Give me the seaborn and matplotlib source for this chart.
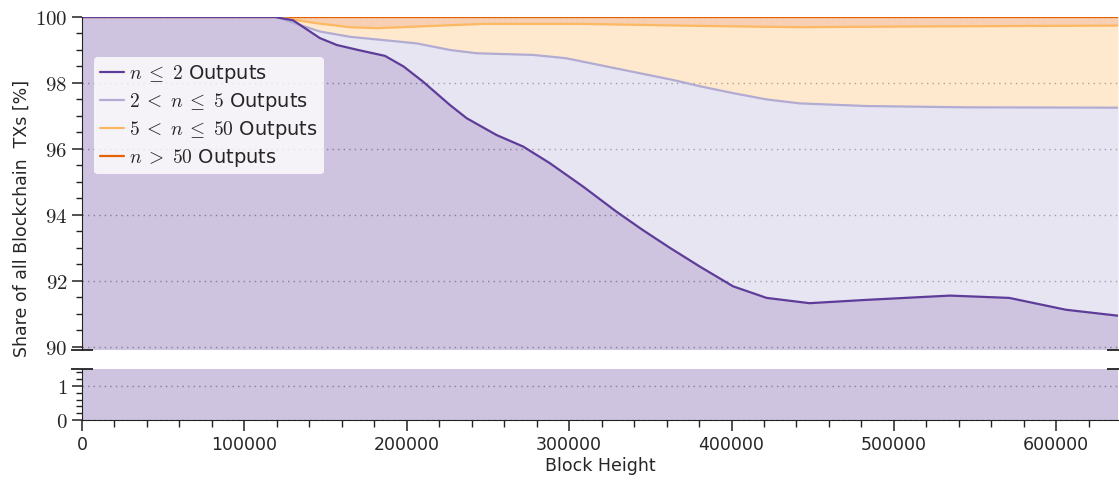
import numpy as np
import pandas as pd
import matplotlib
matplotlib.use("Agg")
import matplotlib.pyplot as plt
from matplotlib.ticker import MultipleLocator, FuncFormatter
import seaborn as sns

# ---- data (cumulative shares in %) ----
h_le2 = [0, 60000, 118800, 130000, 146500, 157000, 170000, 186600, 198000, 210000, 226600,
         236900, 255300, 271700, 288000, 308500, 329000, 345000, 362000, 380500, 401000,
         421600, 448000, 483000, 534500, 571000, 606000, 638000]
v_le2 = [100, 100, 100, 99.9, 99.36, 99.15, 99.0, 98.82, 98.5, 98.04, 97.33,
         96.93, 96.42, 96.07, 95.57, 94.86, 94.1, 93.55, 93.0, 92.43, 91.83,
         91.48, 91.32, 91.42, 91.55, 91.48, 91.12, 90.94]

h_le5 = [0, 60000, 120000, 134000, 146500, 165000, 189600, 206000, 226600, 243000, 277700,
         298000, 329000, 364000, 380500, 401000, 421600, 442000, 483000, 544700, 638000]
v_le5 = [100, 100, 100, 99.76, 99.56, 99.4, 99.28, 99.2, 99.0, 98.9, 98.85,
         98.75, 98.44, 98.09, 97.9, 97.69, 97.5, 97.38, 97.3, 97.26, 97.25]

h_le50 = [0, 60000, 120000, 144500, 165000, 181500, 206000, 247000, 308500, 380500, 442000,
          503700, 638000]
v_le50 = [100, 100, 100, 99.81, 99.69, 99.66, 99.71, 99.79, 99.79, 99.73, 99.69,
          99.71, 99.74]

h_all = [0, 638000]
v_all = [100, 100]

labels = [r"$n\;\leq\;2$ Outputs", r"$2\;<\;n\;\leq\;5$ Outputs",
          r"$5\;<\;n\;\leq\;50$ Outputs", r"$n\;>\;50$ Outputs"]
colors = ["#5e3c99", "#b2abd2", "#fdb863", "#e66101"]

series = [(h_le2, v_le2), (h_le5, v_le5), (h_le50, v_le50), (h_all, v_all)]

sns.set_style("ticks")
plt.rcParams["font.family"] = ["DejaVu Sans"]
plt.rcParams["mathtext.fontset"] = "cm"

fig = plt.figure(figsize=(11.19, 4.82), dpi=100)
L, R = 82 / 1119, 1118 / 1119
ax_top = fig.add_axes([L, 1 - 350 / 482, R - L, (350 - 17) / 482])
ax_bot = fig.add_axes([L, 1 - 420 / 482, R - L, (420 - 369) / 482])

xgrid = np.linspace(0, 638000, 2000)
curves = [np.interp(xgrid, h, v) for h, v in series]

for ax in (ax_top, ax_bot):
    lower = np.zeros_like(xgrid)
    for c, col in zip(curves, colors):
        ax.fill_between(xgrid, lower, c, color=col, alpha=0.3, linewidth=0)
        lower = c
    for i in reversed(range(4)):
        df = pd.DataFrame({"h": series[i][0], "v": series[i][1]})
        sns.lineplot(data=df, x="h", y="v", ax=ax, color=colors[i], linewidth=1.6,
                     label=labels[i] if ax is ax_top else None, legend=False)
    ax.set_xlim(0, 638000)
    ax.grid(axis="y", which="major", linestyle=(0, (1, 3)), color="#999999", linewidth=1.0)
    for s in ("top", "right"):
        ax.spines[s].set_visible(False)
    ax.spines["left"].set_color("#222222")
    ax.set_xlabel("")
    ax.set_ylabel("")
    ax.yaxis.set_major_formatter(FuncFormatter(lambda v, p: f"${v:g}$"))
    ax.tick_params(axis="y", which="major", length=7, width=1.1, labelsize=15, color="#222222")
    ax.tick_params(axis="y", which="minor", length=4, width=1.0, color="#222222")

ax_top.set_ylim(89.9, 100)
ax_top.yaxis.set_major_locator(MultipleLocator(2))
ax_top.yaxis.set_minor_locator(MultipleLocator(0.5))
ax_top.spines["bottom"].set_visible(False)
ax_top.tick_params(axis="x", which="both", bottom=False, labelbottom=False)

ax_bot.set_ylim(0, 1.5)
ax_bot.yaxis.set_major_locator(MultipleLocator(1))
ax_bot.yaxis.set_minor_locator(MultipleLocator(0.2))
ax_bot.xaxis.set_major_locator(MultipleLocator(100000))
ax_bot.xaxis.set_minor_locator(MultipleLocator(20000))
ax_bot.xaxis.set_major_formatter(FuncFormatter(lambda v, p: f"{int(v)}"))
ax_bot.spines["bottom"].set_color("#222222")
ax_bot.tick_params(axis="x", which="major", length=8, width=1.1, labelsize=12.5, color="#222222")
ax_bot.tick_params(axis="x", which="minor", length=5, width=1.0, color="#222222")
ax_bot.set_xlabel("Block Height", fontsize=12.5, labelpad=2)

# break markers
kw = dict(marker=[(-1, 0), (1, 0)], markersize=16, linestyle="none", color="#222222",
          mew=1.3, clip_on=False)
ax_top.plot([0, 1], [0, 0], transform=ax_top.transAxes, **kw)
ax_bot.plot([0, 1], [1, 1], transform=ax_bot.transAxes, **kw)

fig.text(0.019, (1 - 420 / 482 + 1 - 17 / 482) / 2, "Share of all Blockchain  TXs [%]",
         rotation=90, va="center", ha="center", fontsize=12.5)

h, l = ax_top.get_legend_handles_labels()
order = [l.index(x) for x in labels]
leg = ax_top.legend([h[i] for i in order], [l[i] for i in order], loc="upper left",
                    bbox_to_anchor=(0.012, 0.879), borderaxespad=0, fontsize=14,
                    frameon=True, framealpha=0.8, facecolor="white", edgecolor="none",
                    handlelength=1.2, handletextpad=0.3, borderpad=0.3, labelspacing=0.3)

fig.savefig("out.png", dpi=100)
